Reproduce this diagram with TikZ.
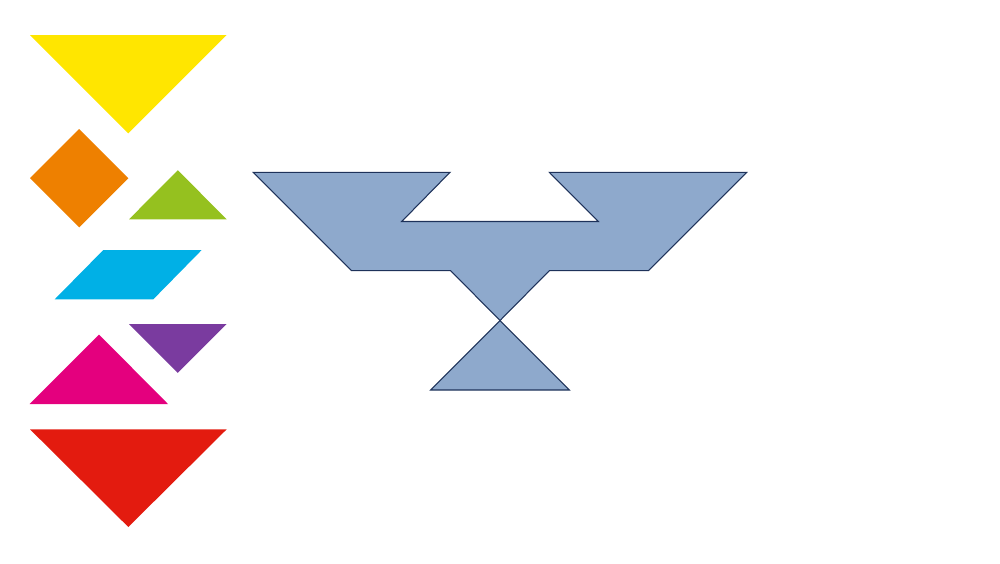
\documentclass[tikz,border=0pt]{standalone}
\usepackage{tikz}
\definecolor{tanyellow}{RGB}{255,230,0}
\definecolor{tanorange}{RGB}{238,128,0}
\definecolor{tangreen}{RGB}{149,193,31}
\definecolor{tancyan}{RGB}{0,176,230}
\definecolor{tanpurple}{RGB}{122,59,159}
\definecolor{tanmagenta}{RGB}{228,0,126}
\definecolor{tanred}{RGB}{227,27,15}
\definecolor{shadefill}{RGB}{142,169,204}
\definecolor{shadeline}{RGB}{30,50,90}
\tikzstyle{piece} = [draw=none]
\tikzstyle{shadow} = [fill=shadefill, 
draw=shadeline, 
line width=0.3pt, 
line join=miter]

\begin{document}
\begin{tikzpicture}[x=0.01cm, y=-0.01cm]
\useasboundingbox (0,0) rectangle (1000,563);

% loose pieces
\fill [piece, tanyellow] (30,35) -- (226.7,35) -- (128.3,133.3) -- cycle;
\fill [piece, tanorange] (79.2,129) -- (128.3,178.2) -- (79.2,227.3) -- (30,178.2) -- cycle;
\fill [piece, tangreen] (129,219.3) -- (226.7,219.3) -- (177.8,170.2) -- cycle;
\fill [piece, tancyan] (103.3,250) -- (201.7,250) -- (153.3,299.3) -- (54.7,299.3) -- cycle;
\fill [piece, tanpurple] (129,324) -- (226.7,324) -- (177.8,372.8) -- cycle;
\fill [piece, tanmagenta] (99,334.5) -- (168,404) -- (29.7,404) -- cycle;
\fill [piece, tanred] (30,429.3) -- (226.7,429.3) -- (128.3,527) -- cycle;

% silhouette
\draw [shadow] (253.3,172.3) -- (450,172.3) -- (401.7,221.5) -- (598.3,221.5)
  -- (549.3,172.3) -- (746.7,172.3) -- (648.3,270.7) -- (549.3,270.7)
  -- (500,320.5) -- (450.7,270.7) -- (351.7,270.7) -- cycle;
\draw [shadow] (500,320.5) -- (569.3,390) -- (430.7,390) -- cycle;

\end{tikzpicture}
\end{document}
